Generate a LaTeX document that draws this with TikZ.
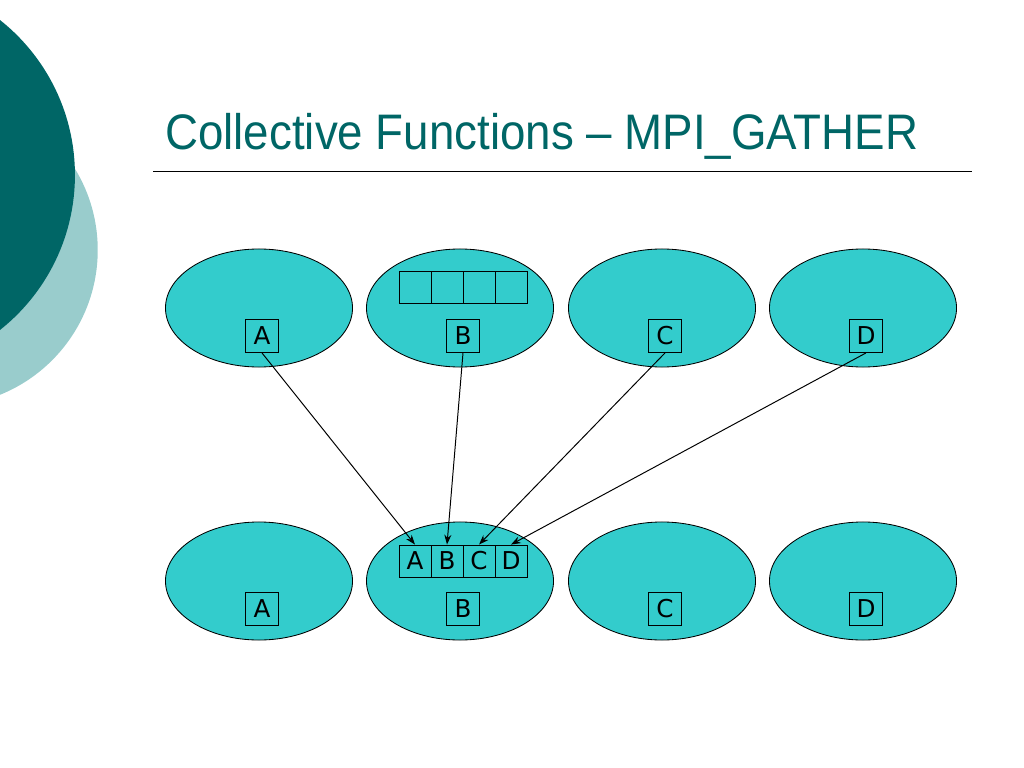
\documentclass[tikz,border=0pt]{standalone}
\usepackage{fontspec}
\setmainfont{Liberation Sans}
\newfontfamily\boxfont{DejaVu Sans}
\usetikzlibrary{shapes.geometric,arrows.meta}

\definecolor{darkteal}{HTML}{006666}
\definecolor{lightteal}{HTML}{99CCCC}
\definecolor{procfill}{HTML}{33CCCC}

\tikzset{
  proc/.style={ellipse,draw,fill=procfill,line width=0.6pt,inner sep=0pt,
    minimum width=4.675cm,minimum height=2.95cm},
  rankbox/.style={draw,line width=0.6pt,inner sep=0pt,minimum width=0.825cm,
    minimum height=0.825cm,font=\boxfont\fontsize{17.5}{18}\selectfont},
  cell/.style={draw,line width=0.6pt,inner sep=0pt,minimum width=0.8cm,
    minimum height=0.8cm,font=\boxfont\fontsize{17.5}{18}\selectfont},
  gath/.style={-{Stealth[length=7pt,width=5pt]},line width=0.7pt}
}

\begin{document}
\begin{tikzpicture}[x=0.025cm,y=-0.025cm]
\useasboundingbox (0,0) rectangle (1024,768);
\clip (0,0) rectangle (1024,768);
% slide decoration
\fill[lightteal] (-58.3,250) circle (3.9cm);
\fill[darkteal] (-122.7,175) circle (4.94cm);
\node[anchor=base west,inner sep=0pt,text=darkteal,font=\fontsize{35.5}{40}\selectfont] (title) at (165,150) {\scalebox{0.915}[1]{Collective Functions -- MPI\_GATHER}};
\draw[line width=0.7pt] (153,171) -- (972,171);

% processes before and after
\foreach \n/\x in {a/259,b/460,c/662,d/863}{
  \node[proc] (t\n) at (\x,308) {};
  \node[proc] (b\n) at (\x,581) {};
}
\foreach \n/\x/\t in {a/262/A,b/463/B,c/665/C,d/866/D}{
  \node[rankbox] (r\n) at (\x,336) {\t};
  \node[rankbox] (s\n) at (\x,609) {\t};
}

% receive buffer on root
\foreach \i/\x in {1/415,2/447,3/479,4/511}
  \node[cell] (e\i) at (\x,287) {};
\foreach \i/\x/\t in {1/415/A,2/447/B,3/479/C,4/511/D}
  \node[cell] (g\i) at (\x,561) {\t};

\draw[gath] (ra.south) -- (g1.north);
\draw[gath] (rb.south) -- (g2.north);
\draw[gath] (rc.south) -- (g3.north);
\draw[gath] (rd.south) -- (g4.north);
\end{tikzpicture}
\end{document}
